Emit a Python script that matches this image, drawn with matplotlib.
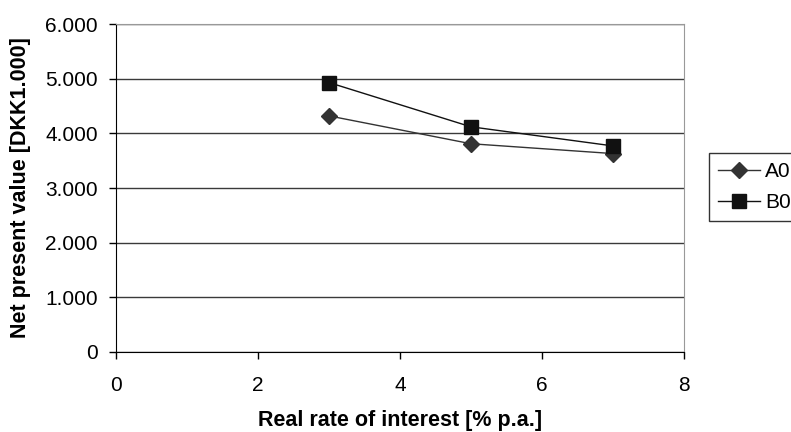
import matplotlib.pyplot as plt
from matplotlib.ticker import FuncFormatter

# data
rates = [3, 5, 7]
npv_a0 = [4320, 3810, 3630]
npv_b0 = [4930, 4120, 3770]
x_ticks = [0, 2, 4, 6, 8]
y_ticks = [0, 1000, 2000, 3000, 4000, 5000, 6000]

plt.rcParams['font.family'] = ['Liberation Sans', 'DejaVu Sans']

fig = plt.figure(figsize=(7.91, 4.32), dpi=100)
ax = fig.add_axes([0.1463, 0.1852, 0.8647 - 0.1463, 0.9444 - 0.1852])

ax.plot(rates, npv_a0, color='#333333', lw=1.0, marker='D', ms=8.5,
        label='A0', zorder=3)
ax.plot(rates, npv_b0, color='#111111', lw=1.0, marker='s', ms=9.5,
        label='B0', zorder=4)

ax.set_xlim(0, 8)
ax.set_ylim(0, 6000)
ax.set_xticks(x_ticks)
ax.set_yticks(y_ticks)


def thousands(v, pos):
    if v == 0:
        return '0'
    return f"{int(v):,}".replace(',', '.')


ax.yaxis.set_major_formatter(FuncFormatter(thousands))
ax.yaxis.grid(True, color='#3a3a3a', lw=1.0)
ax.set_axisbelow(True)

ax.spines['top'].set_color('#999999')
ax.spines['right'].set_color('#999999')
ax.spines['left'].set_color('black')
ax.spines['bottom'].set_color('black')
ax.tick_params(axis='both', direction='out', length=5, width=1,
               labelsize=15, colors='black')
ax.tick_params(axis='x', pad=12.5)
ax.tick_params(axis='y', pad=8)

ax.set_xlabel('Real rate of interest [% p.a.]', fontsize=15.5,
              fontweight='bold', va='baseline')
ax.set_ylabel('Net present value [DKK1.000]', fontsize=15.5,
              fontweight='bold', va='center')
ax.xaxis.set_label_coords(0.5, -0.2256)
ax.yaxis.set_label_coords(-0.168, 0.5)

leg = ax.legend(loc='upper left', bbox_to_anchor=(709 / 791, 1 - 153 / 432),
                bbox_transform=fig.transFigure, borderaxespad=0,
                fontsize=15, frameon=True, fancybox=False,
                handlelength=2.0, handletextpad=0.25, borderpad=0.45,
                labelspacing=0.55)
leg.get_frame().set_edgecolor('black')
leg.get_frame().set_linewidth(1.0)

plt.savefig('out.png', dpi=100)
